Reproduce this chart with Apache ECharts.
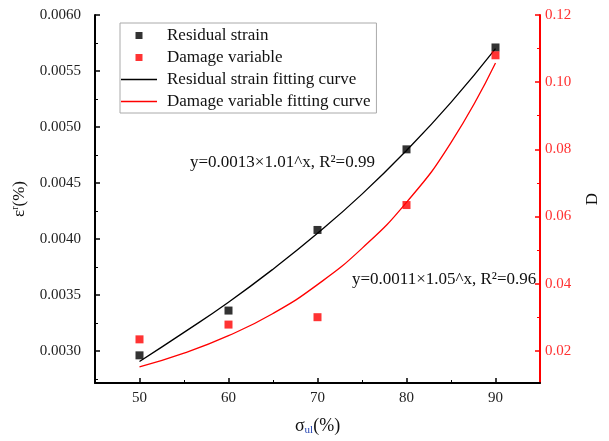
<!DOCTYPE html>
<html>
<head>
<meta charset="utf-8">
<script src="https://cdn.jsdelivr.net/npm/echarts@6/dist/echarts.min.js"></script>
<style>html,body{margin:0;padding:0;background:#fff}#c{width:609px;height:441px}</style>
</head>
<body>
<div id="c"></div>
<script>
const xVals = [50, 60, 70, 80, 90];
const residualStrain = [0.00296, 0.00336, 0.00408, 0.00480, 0.00571];
const damageVariable = [0.0234, 0.0278, 0.0300, 0.0634, 0.1080];
const fitX = [50, 55, 60, 65, 70, 75, 80, 85, 90];
const strainFit = [0.002905, 0.003165, 0.003435, 0.00373, 0.00405, 0.00440, 0.00479, 0.00522, 0.00570];
const damageFit = [0.0152, 0.0193, 0.0245, 0.0311, 0.0397, 0.0505, 0.0642, 0.0820, 0.1057];
const xTicks = [50, 60, 70, 80, 90];
const xMinorTicks = [55, 65, 75, 85];
const leftTicks = [0.0030, 0.0035, 0.0040, 0.0045, 0.0050, 0.0055, 0.0060];
const leftMinorTicks = [0.00275, 0.00325, 0.00375, 0.00425, 0.00475, 0.00525, 0.00575];
const rightTicks = [0.02, 0.04, 0.06, 0.08, 0.10, 0.12];
const rightMinorTicks = [0.03, 0.05, 0.07, 0.09, 0.11];
const eqStrain = 'y=0.0013×1.01^x, R²=0.99';
const eqDamage = 'y=0.0011×1.05^x, R²=0.96';

const F = '"Liberation Serif", "Times New Roman", serif';
const xMin = 45, xMax = 95, lMin = 0.002713, lMax = 0.006, rMin = 0.0104, rMax = 0.12;
const SQUARE_ICON = 'path://M0,0H7V7H0Z';
const LINE_ICON = 'path://M0,0H36V1.3H0Z';

const chart = echarts.init(document.getElementById('c'), null, {renderer: 'canvas'});
const pair = (xs, ys) => xs.map((x, i) => [x, ys[i]]);
const minorAxis = (extra) => Object.assign({
  show: true, axisLine: {show: false}, axisLabel: {show: false}, splitLine: {show: false}
}, extra);

chart.setOption({
  animation: false,
  backgroundColor: '#fff',
  grid: {left: 95, right: 56, top: 15, bottom: 57, containLabel: false},
  legend: {
    orient: 'vertical', left: 120, top: 23,
    padding: [4, 6, 3, 1],
    borderColor: '#aaa', borderWidth: 1,
    itemWidth: 36, itemHeight: 7, itemGap: 5, symbolKeepAspect: true,
    textStyle: {fontFamily: F, fontSize: 17, color: '#111', padding: [0, 0, 0, 5]},
    data: [
      {name: 'Residual strain', icon: SQUARE_ICON},
      {name: 'Damage variable', icon: SQUARE_ICON},
      {name: 'Residual strain fitting curve', icon: LINE_ICON},
      {name: 'Damage variable fitting curve', icon: LINE_ICON}
    ]
  },
  xAxis: [{
    type: 'value', min: xMin, max: xMax, position: 'bottom',
    name: '{a|σ}{b|ul}{a|(%)}', nameLocation: 'middle', nameGap: 34,
    nameTextStyle: {rich: {
      a: {fontFamily: F, fontSize: 18, color: '#111'},
      b: {fontFamily: F, fontSize: 11, color: '#2040b0', padding: [8, 0, 0, 0]}
    }},
    axisLine: {lineStyle: {color: '#000', width: 2}},
    axisTick: {inside: true, length: 5, lineStyle: {color: '#000', width: 1.5}, customValues: xTicks},
    axisLabel: {customValues: xTicks, margin: 8, fontFamily: F, fontSize: 15, color: '#222'},
    splitLine: {show: false}
  }, minorAxis({
    type: 'value', min: xMin, max: xMax, position: 'bottom', offset: 0,
    axisTick: {inside: true, length: 3, lineStyle: {color: '#000', width: 1}, customValues: xMinorTicks}
  })],
  yAxis: [{
    type: 'value', min: lMin, max: lMax, position: 'left',
    name: '{a|ε}{s|r}{a|(%)}', nameLocation: 'middle', nameGap: 66, nameRotate: 90,
    nameTextStyle: {rich: {
      a: {fontFamily: F, fontSize: 17, color: '#111'},
      s: {fontFamily: F, fontSize: 10, color: '#111', padding: [0, 0, 9, 0]}
    }},
    axisLine: {show: true, lineStyle: {color: '#000', width: 2}},
    axisTick: {inside: true, length: 5, lineStyle: {color: '#000', width: 1.5}, customValues: leftTicks},
    axisLabel: {customValues: leftTicks, margin: 14, fontFamily: F, fontSize: 15, color: '#222',
      formatter: v => v.toFixed(4)},
    splitLine: {show: false}
  }, {
    type: 'value', min: rMin, max: rMax, position: 'right',
    name: 'D', nameLocation: 'middle', nameGap: 44, nameRotate: 90,
    nameTextStyle: {fontFamily: F, fontSize: 17, color: '#111'},
    axisLine: {show: true, lineStyle: {color: '#ff0000', width: 2}},
    axisTick: {inside: true, length: 5, lineStyle: {color: '#ff0000', width: 1.5}, customValues: rightTicks},
    axisLabel: {customValues: rightTicks, margin: 5, fontFamily: F, fontSize: 15, color: '#ff3030',
      formatter: v => v.toFixed(2)},
    splitLine: {show: false}
  }, minorAxis({
    type: 'value', min: lMin, max: lMax, position: 'left', offset: 0,
    axisTick: {inside: true, length: 3, lineStyle: {color: '#000', width: 1}, customValues: leftMinorTicks}
  }), minorAxis({
    type: 'value', min: rMin, max: rMax, position: 'right', offset: 0,
    axisTick: {inside: true, length: 3, lineStyle: {color: '#ff0000', width: 1}, customValues: rightMinorTicks}
  })],
  series: [{
    name: 'Residual strain fitting curve', type: 'line', yAxisIndex: 0, smooth: 0.5,
    showSymbol: false, symbol: 'none', data: pair(fitX, strainFit),
    lineStyle: {color: '#000', width: 1.3}, itemStyle: {color: '#000'}, z: 2
  }, {
    name: 'Damage variable fitting curve', type: 'line', yAxisIndex: 1, smooth: 0.5,
    showSymbol: false, symbol: 'none', data: pair(fitX, damageFit),
    lineStyle: {color: '#ff0000', width: 1.3}, itemStyle: {color: '#ff0000'}, z: 2
  }, {
    name: 'Residual strain', type: 'scatter', yAxisIndex: 0, symbol: 'rect', symbolSize: 8,
    data: pair(xVals, residualStrain), itemStyle: {color: '#000'}, z: 3
  }, {
    name: 'Damage variable', type: 'scatter', yAxisIndex: 1, symbol: 'rect', symbolSize: 8,
    data: pair(xVals, damageVariable), itemStyle: {color: '#ff0000'}, z: 3
  }],
  graphic: [{
    type: 'text', left: 190, top: 154,
    style: {text: eqStrain, font: '17px ' + F, fill: '#111'}
  }, {
    type: 'text', left: 352, top: 271,
    style: {text: eqDamage, font: '17px ' + F, fill: '#111'}
  }]
});
</script>
</body>
</html>
